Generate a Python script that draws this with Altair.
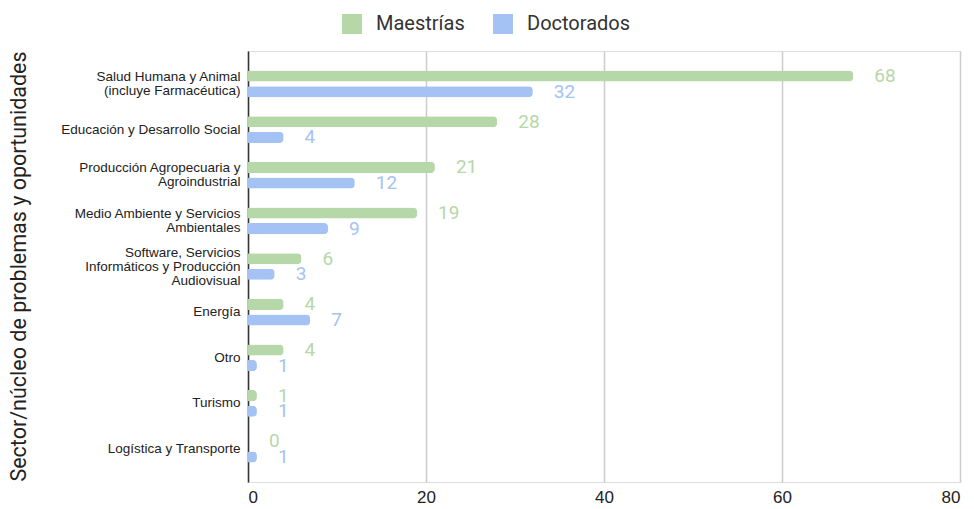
import altair as alt
import pandas as pd

categories = [
    "Salud Humana y Animal|(incluye Farmacéutica)",
    "Educación y Desarrollo Social",
    "Producción Agropecuaria y|Agroindustrial",
    "Medio Ambiente y Servicios|Ambientales",
    "Software, Servicios|Informáticos y Producción|Audiovisual",
    "Energía",
    "Otro",
    "Turismo",
    "Logística y Transporte",
]
maestrias = [68, 28, 21, 19, 6, 4, 4, 1, 0]
doctorados = [32, 4, 12, 9, 3, 7, 1, 1, 1]
series = ["Maestrías", "Doctorados"]
colors = ["#b6d7a8", "#a4c2f4"]

rows = []
for c, m, d in zip(categories, maestrias, doctorados):
    rows.append({"cat": c, "serie": series[0], "val": m})
    rows.append({"cat": c, "serie": series[1], "val": d})
df = pd.DataFrame(rows)

y_enc = alt.Y(
    "cat:N",
    sort=categories,
    scale=alt.Scale(paddingInner=0, paddingOuter=0.22),
    axis=alt.Axis(
        title="Sector/núcleo de problemas y oportunidades",
        titleFont="Roboto",
        titleFontSize=21.5,
        titleFontWeight="normal",
        titleColor="#222222",
        titleAngle=-90,
        titleX=-229,
        titleY=215,
        titleAlign="center",
        titleBaseline="middle",
        labelExpr="split(datum.label, '|')",
        labelFont="Liberation Sans",
        labelFontSize=13.5,
        labelColor="#222222",
        labelLineHeight=14,
        labelPadding=8,
        labelLimit=300,
        labelOffset={
            "condition": [
                {"test": "length(split(datum.label, '|')) == 3", "value": -14},
                {"test": "length(split(datum.label, '|')) == 2", "value": -7},
            ],
            "value": 0,
        },
        ticks=False,
        domain=True,
        domainColor="#333333",
        domainWidth=1.5,
        grid=False,
    ),
)
yoff = alt.YOffset(
    "serie:N",
    sort=series,
    scale=alt.Scale(paddingInner=0.29, paddingOuter=0.605),
)
color = alt.Color(
    "serie:N",
    sort=series,
    scale=alt.Scale(domain=series, range=colors),
    legend=alt.Legend(
        title=None,
        orient="none",
        direction="horizontal",
        legendX=94,
        legendY=-37,
        symbolType="square",
        symbolSize=400,
        symbolStrokeWidth=0,
        symbolOpacity=1,
        labelFont="Roboto",
        labelFontSize=20,
        labelColor="#333333",
        labelOffset=14,
        columnPadding=28,
        padding=0,
    ),
)

x_enc = alt.X(
    "val:Q",
    scale=alt.Scale(domain=[0, 80], nice=False),
    axis=alt.Axis(
        title=None,
        values=[0, 20, 40, 60, 80],
        grid=True,
        gridColor="#cccccc",
        gridWidth=1.5,
        domain=False,
        ticks=False,
        labelFont="Liberation Sans",
        labelFontSize=17,
        labelColor="#222222",
        labelPadding=7,
    ),
)

bars = alt.Chart(df).mark_bar(cornerRadiusEnd=4).encode(
    x=x_enc, y=y_enc, yOffset=yoff, color=color
)

labels = alt.Chart(df).mark_text(
    align="left", baseline="middle", dx=21, font="Roboto", fontSize=19
).encode(
    x="val:Q",
    y=alt.Y("cat:N", sort=categories),
    yOffset=alt.YOffset("serie:N", sort=series),
    text="val:Q",
    color=alt.Color("serie:N", sort=series, legend=None),
)

chart = (
    alt.layer(bars, labels)
    .properties(
        width=712,
        height=431,
        autosize=alt.AutoSizeParams(type="none"),
        padding={"left": 240, "top": 43, "right": 6, "bottom": 30},
    )
    .configure_view(stroke=None)
    .configure(background="white")
)

chart.save("out.html", embed_options={"renderer": "svg", "actions": False})
